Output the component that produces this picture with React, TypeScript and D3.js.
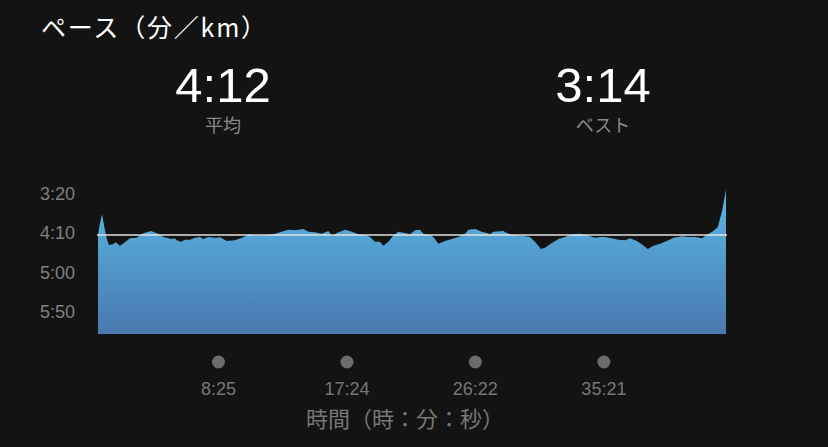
import React from 'react';
import * as d3 from 'd3';

// pace profile: elapsed seconds -> pace (seconds per km)
const times = [
  0, 6, 17, 25, 36, 46, 63, 74, 92, 113,
  134, 162, 190, 222, 253, 274, 309, 323, 330, 348,
  365, 386, 407, 428, 442, 462, 491, 512, 540, 574,
  603, 637, 658, 688, 714, 742, 770, 798, 826, 861,
  882, 910, 938, 966, 982, 1001, 1036, 1064, 1092, 1120,
  1141, 1161, 1182, 1196, 1217, 1238, 1259, 1287, 1308, 1329,
  1350, 1364, 1392, 1406, 1427, 1455, 1483, 1511, 1539, 1553,
  1581, 1609, 1630, 1644, 1658, 1699, 1714, 1741, 1777, 1811,
  1832, 1857, 1874, 1895, 1930, 1958, 1986, 2021, 2056, 2084,
  2105, 2126, 2154, 2182, 2210, 2231, 2259, 2280, 2305, 2329,
  2357, 2385, 2413, 2448, 2476, 2504, 2532, 2553, 2580, 2599,
  2608, 2616, 2629, 2633,
];
const paces = [
  252, 240.5, 225.6, 239.2, 255.8, 264.8, 263.9, 261.3, 265.7, 261.3,
  256.2, 255.4, 249.8, 246.9, 250.3, 254.6, 257.1, 256.2, 258.8, 260.6,
  258, 258, 255.4, 254.6, 257.1, 254.6, 255.4, 254.9, 259.7, 258.8,
  255.4, 251.1, 252.9, 252.6, 252, 250.3, 247.8, 245.2, 246, 244.3,
  247.8, 248.5, 250.3, 246.9, 253.7, 249.4, 245.2, 247.8, 251.1, 252,
  254.6, 260.6, 260.6, 265.7, 260.6, 252.9, 247.8, 249.4, 251.1, 246,
  245.2, 250.3, 252, 254.6, 263.1, 259.7, 257.1, 254.6, 250.3, 245.2,
  244.3, 247.8, 249.4, 251.1, 247.8, 246.9, 249.4, 252, 252.9, 254.6,
  260.6, 269.9, 268.2, 263.9, 257.1, 254.6, 251.1, 250.3, 252.9, 255.4,
  254.6, 254.6, 256.2, 258, 258.8, 256.2, 259.7, 263.9, 269.9, 265.7,
  263.1, 259.7, 255.4, 253.7, 254.6, 254.6, 256.2, 252, 246.9, 241.8,
  230.7, 222.2, 200.9, 194,
];

const yTickValues = [200, 250, 300, 350];
const yTickLabels = ['3:20', '4:10', '5:00', '5:50'];
const xTickValues = [505, 1044, 1582, 2121];
const xTickLabels = ['8:25', '17:24', '26:22', '35:21'];

const avgPace = 252;
const avgLabel = '4:12';
const bestLabel = '3:14';
const totalTime = 2633;

const W = 828;
const H = 447;
const plotLeft = 98;
const plotRight = 726;
const plotBottom = 334;

const latin = "'Liberation Sans', Roboto, Arial, sans-serif";
const cjk = "'Noto Sans CJK JP', 'Noto Sans', sans-serif";

const App: React.FC = () => {
  const x = d3.scaleLinear().domain([0, totalTime]).range([plotLeft, plotRight]);
  const y = d3.scaleLinear().domain([200, 350]).range([194.3, 311.7]);

  const points = times.map((t, i) => ({ t, p: paces[i] }));
  const area = d3
    .area<{ t: number; p: number }>()
    .x(d => x(d.t))
    .y0(plotBottom)
    .y1(d => y(d.p))
    .curve(d3.curveLinear);

  return (
    <div style={{ position: 'fixed', left: 0, top: 0, width: W, height: H, background: '#131313' }}>
      <svg width={W} height={H} style={{ display: 'block' }}>
        <defs>
          <linearGradient id="paceFill" x1="0" y1="0" x2="0" y2="1" gradientUnits="objectBoundingBox">
            <stop offset="0%" stopColor="#5ab8e6" />
            <stop offset="100%" stopColor="#4a78af" />
          </linearGradient>
        </defs>
        <rect width={W} height={H} fill="#131313" />

        <text x={41} y={37} fill="#ffffff" fontSize={25} letterSpacing={1.8} fontFamily={cjk}>
          ペース（分／km）
        </text>

        <text x={223} y={102} textAnchor="middle" fill="#ffffff" fontSize={49} fontWeight={300} fontFamily={latin}>
          {avgLabel}
        </text>
        <text x={223} y={132} textAnchor="middle" fill="#8a8a8a" fontSize={18} fontFamily={cjk}>
          平均
        </text>
        <text x={603} y={102} textAnchor="middle" fill="#ffffff" fontSize={49} fontWeight={300} fontFamily={latin}>
          {bestLabel}
        </text>
        <text x={603} y={132} textAnchor="middle" fill="#8a8a8a" fontSize={18} fontFamily={cjk}>
          ベスト
        </text>

        {yTickValues.map((v, i) => (
          <text
            key={v}
            x={75}
            y={y(v)}
            textAnchor="end"
            dominantBaseline="central"
            fill="#808080"
            fontSize={18}
            fontFamily={latin}
          >
            {yTickLabels[i]}
          </text>
        ))}

        <path d={area(points) || ''} fill="url(#paceFill)" />
        <line x1={plotLeft - 1} x2={plotRight + 1} y1={y(avgPace)} y2={y(avgPace)} stroke="#e2e2e2" strokeWidth={1.3} />

        {xTickValues.map((v, i) => (
          <g key={v} transform={`translate(${x(v)},0)`}>
            <circle cy={362} r={6.5} fill="#6c6c6c" />
            <text y={395} textAnchor="middle" fill="#777777" fontSize={18} fontFamily={latin}>
              {xTickLabels[i]}
            </text>
          </g>
        ))}

        <text x={405} y={427} textAnchor="middle" fill="#777777" fontSize={22} fontFamily={cjk}>
          時間（時：分：秒）
        </text>
      </svg>
    </div>
  );
};

export default App;
